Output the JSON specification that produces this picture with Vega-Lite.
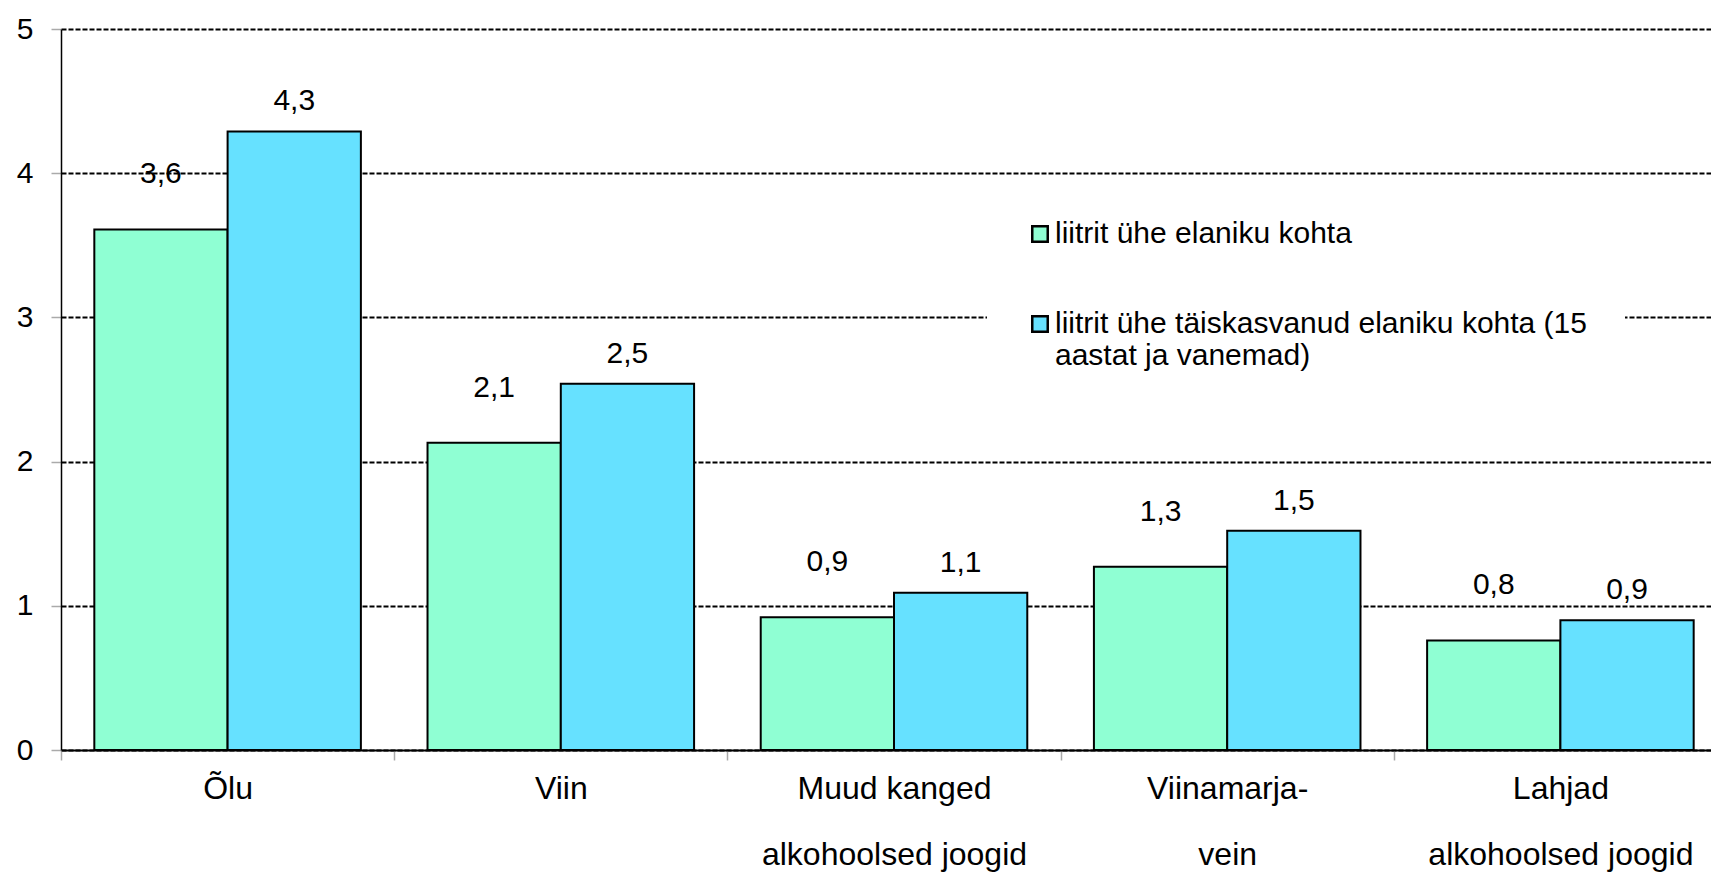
{
  "$schema": "https://vega.github.io/schema/vega-lite/v6.json",
  "width": 1666,
  "height": 721,
  "autosize": "none",
  "padding": {"left": 61, "top": 29, "right": 0, "bottom": 122},
  "background": "white",
  "config": {
    "view": {"stroke": null},
    "font": "Liberation Sans",
    "locale": {"number": {"decimal": ",", "thousands": " ", "grouping": [3], "currency": ["", " €"]}}
  },
  "data": {
    "values": [
      {"kat": "Õlu", "seeria": "liitrit ühe elaniku kohta", "vaartus": 3.61},
      {"kat": "Õlu", "seeria": "liitrit ühe täiskasvanud elaniku kohta (15 aastat ja vanemad)", "vaartus": 4.29},
      {"kat": "Viin", "seeria": "liitrit ühe elaniku kohta", "vaartus": 2.13},
      {"kat": "Viin", "seeria": "liitrit ühe täiskasvanud elaniku kohta (15 aastat ja vanemad)", "vaartus": 2.54},
      {"kat": "Muud kanged alkohoolsed joogid", "seeria": "liitrit ühe elaniku kohta", "vaartus": 0.92},
      {"kat": "Muud kanged alkohoolsed joogid", "seeria": "liitrit ühe täiskasvanud elaniku kohta (15 aastat ja vanemad)", "vaartus": 1.09},
      {"kat": "Viinamarjavein", "seeria": "liitrit ühe elaniku kohta", "vaartus": 1.27},
      {"kat": "Viinamarjavein", "seeria": "liitrit ühe täiskasvanud elaniku kohta (15 aastat ja vanemad)", "vaartus": 1.52},
      {"kat": "Lahjad alkohoolsed joogid", "seeria": "liitrit ühe elaniku kohta", "vaartus": 0.76},
      {"kat": "Lahjad alkohoolsed joogid", "seeria": "liitrit ühe täiskasvanud elaniku kohta (15 aastat ja vanemad)", "vaartus": 0.90}
    ]
  },
  "encoding": {
    "x": {
      "field": "kat",
      "type": "nominal",
      "sort": null,
      "scale": {"paddingInner": 0, "paddingOuter": 0},
      "axis": {
        "title": null,
        "labelAngle": 0,
        "labelFontSize": 32,
        "labelColor": "black",
        "labelLimit": 500,
        "labelPadding": 38,
        "labelLineHeight": 66,
        "labelBaseline": "alphabetic",
        "labelExpr": "datum.label == 'Muud kanged alkohoolsed joogid' ? ['Muud kanged', 'alkohoolsed joogid'] : datum.label == 'Viinamarjavein' ? ['Viinamarja-', 'vein'] : datum.label == 'Lahjad alkohoolsed joogid' ? ['Lahjad', 'alkohoolsed joogid'] : datum.label",
        "domainColor": "black",
        "domainWidth": 2,
        "tickBand": "extent",
        "tickColor": "#aaaaaa",
        "tickSize": 10,
        "tickWidth": 1.5,
        "grid": false
      }
    },
    "xOffset": {"field": "seeria", "type": "nominal", "sort": null, "scale": {"paddingInner": 0, "paddingOuter": 0.25}}
  },
  "layer": [
    {
      "mark": {"type": "bar", "stroke": "black", "strokeWidth": 2},
      "encoding": {
        "y": {
          "field": "vaartus",
          "type": "quantitative",
          "scale": {"domain": [0, 5], "nice": false},
          "axis": {
            "title": null,
            "values": [0, 1, 2, 3, 4, 5],
            "format": "d",
            "labelFontSize": 30,
            "labelColor": "black",
            "labelPadding": 18,
            "tickSize": 10,
            "tickColor": "#aaaaaa",
            "tickWidth": 1.5,
            "domainColor": "black",
            "domainWidth": 1.5,
            "grid": true,
            "gridColor": "black",
            "gridDash": [5, 2],
            "gridWidth": 2,
            "gridOpacity": 1
          }
        },
        "color": {
          "field": "seeria",
          "type": "nominal",
          "sort": null,
          "scale": {"range": ["#8FFFD3", "#66E1FF"]},
          "legend": {
            "title": null,
            "orient": "none",
            "legendX": 926,
            "legendY": 152,
            "fillColor": "white",
            "padding": 38,
            "symbolType": "square",
            "symbolSize": 240,
            "symbolStrokeColor": "black",
            "symbolStrokeWidth": 2.5,
            "symbolOpacity": 1,
            "labelFontSize": 30,
            "labelColor": "black",
            "labelLimit": 900,
            "labelOffset": 0,
            "rowPadding": 60,
            "labelExpr": "datum.label == 'liitrit ühe täiskasvanud elaniku kohta (15 aastat ja vanemad)' ? ['liitrit ühe täiskasvanud elaniku kohta (15', 'aastat ja vanemad)'] : datum.label"
          }
        }
      }
    },
    {
      "transform": [{"filter": "datum.seeria == 'liitrit ühe elaniku kohta'"}],
      "mark": {"type": "text", "dy": -55, "fontSize": 30, "color": "black", "baseline": "middle"},
      "encoding": {
        "y": {"field": "vaartus", "type": "quantitative"},
        "text": {"field": "vaartus", "type": "quantitative", "format": ".1f"}
      }
    },
    {
      "transform": [{"filter": "datum.seeria != 'liitrit ühe elaniku kohta'"}],
      "mark": {"type": "text", "dy": -30, "fontSize": 30, "color": "black", "baseline": "middle"},
      "encoding": {
        "y": {"field": "vaartus", "type": "quantitative"},
        "text": {"field": "vaartus", "type": "quantitative", "format": ".1f"}
      }
    }
  ]
}
